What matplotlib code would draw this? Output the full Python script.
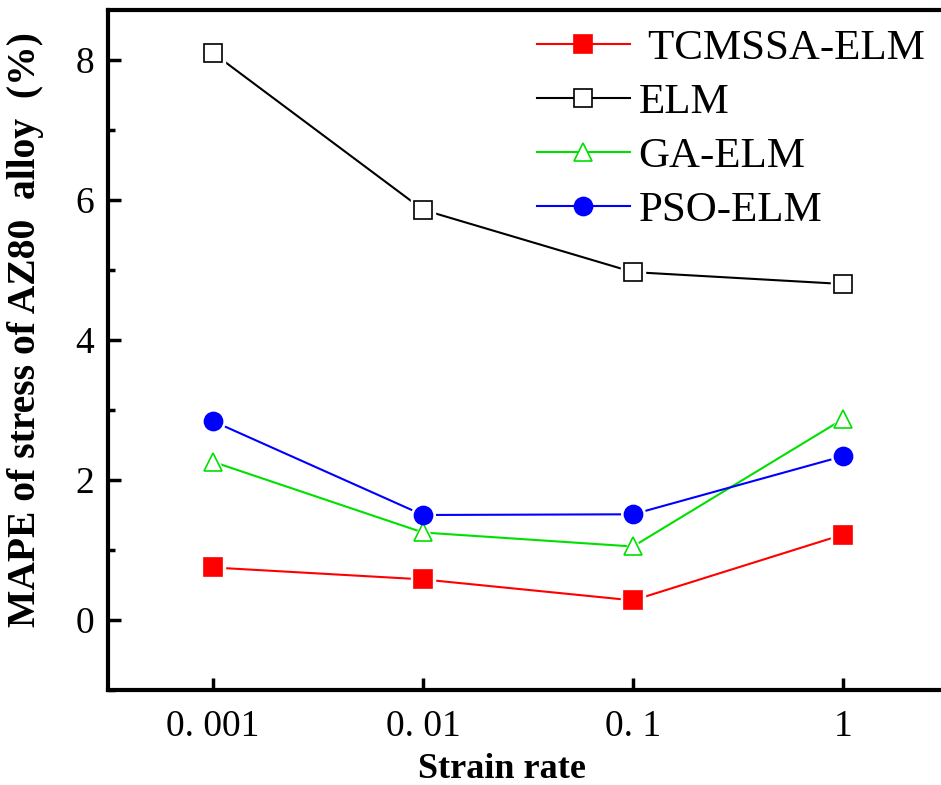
import matplotlib
matplotlib.use('Agg')
import matplotlib.pyplot as plt
from matplotlib.ticker import MultipleLocator

plt.rcParams['font.family'] = ['Liberation Serif', 'DejaVu Serif']
plt.rcParams['mathtext.fontset'] = 'stix'

strain_rates = ['0. 001', '0. 01', '0. 1', '1']
tcmssa_elm = [0.75, 0.58, 0.28, 1.22]
elm = [8.10, 5.86, 4.97, 4.80]
ga_elm = [2.26, 1.25, 1.05, 2.87]
pso_elm = [2.84, 1.50, 1.51, 2.34]

series = [
    (' TCMSSA-ELM', tcmssa_elm, 'red', 's', 'red'),
    ('ELM', elm, 'black', 's', 'white'),
    ('GA-ELM', ga_elm, '#00e000', '^', 'white'),
    ('PSO-ELM', pso_elm, 'blue', 'o', 'blue'),
]

fig = plt.figure(figsize=(9.41, 7.85), dpi=100)
# axes: left spine at x=108, top at y=10, bottom at y=690; right edge beyond image
ax = fig.add_axes([108 / 941, (785 - 690) / 785, (948 - 108) / 941, 680 / 785])

x = list(range(len(strain_rates)))
handles = []
for label, vals, col, mk, face in series:
    ax.plot(x, vals, color=col, lw=1.5, zorder=2)
    # white halo so the line stops short of each marker (Origin style)
    ax.plot(x, vals, ls='none', marker=mk, ms=17, mfc='white', mec='white', zorder=3)
    h, = ax.plot(x, vals, color=col, lw=1.5, ls='none', marker=mk, ms=13,
                 mfc=face, mec=col, mew=1.2, zorder=4)
    handles.append((h, label, col, mk, face))

ax.set_xlim(-0.5, 3.5)
ax.set_ylim(-1, 8.714)
ax.set_xticks(x)
ax.set_xticklabels(strain_rates)
ax.yaxis.set_major_locator(MultipleLocator(2))
ax.yaxis.set_minor_locator(MultipleLocator(1))
ax.set_yticks([0, 2, 4, 6, 8])

ax.tick_params(axis='both', which='major', direction='in', length=9, width=2.5,
               labelsize=27, pad=10)
ax.tick_params(axis='y', which='minor', direction='in', length=5, width=2.5)
ax.tick_params(axis='x', which='major', pad=14)

for s in ['left', 'bottom', 'top']:
    ax.spines[s].set_linewidth(3)
ax.spines['right'].set_visible(False)

ax.set_xlabel('Strain rate', fontsize=26, fontweight='bold')
ax.set_ylabel('MAPE of stress of AZ80  alloy  (%)', fontsize=28.5, fontweight='bold')
ax.xaxis.set_label_coords((502 - 108) / 840, (690 - 753) / 680)
ax.yaxis.set_label_coords((44 - 108) / 840, (690 - 330) / 680)

leg_handles = []
for h, label, col, mk, face in handles:
    lh, = ax.plot([], [], color=col, lw=1.5, marker=mk, ms=13, mfc=face, mec=col, mew=1.2)
    leg_handles.append(lh)
leg = ax.legend(leg_handles, [h[1] for h in handles], loc='upper left',
                bbox_to_anchor=(0.475, 1.016), frameon=False, fontsize=31,
                handlelength=2.15, handletextpad=0.2, labelspacing=0.34,
                borderaxespad=0.3)

fig.savefig('out.png', dpi=100)
